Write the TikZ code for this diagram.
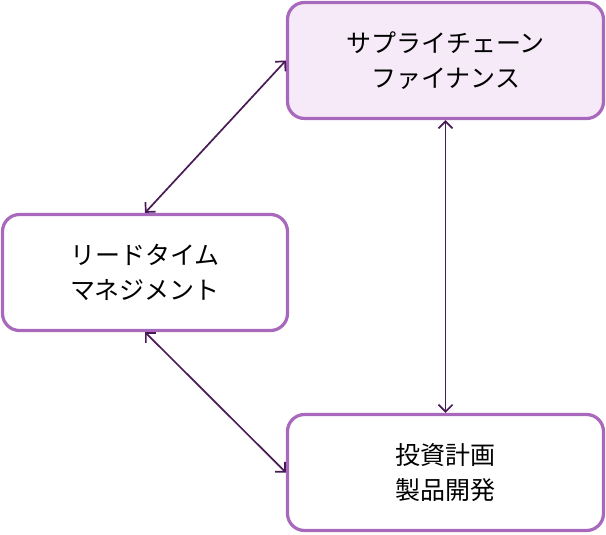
\documentclass[tikz,border=0pt]{standalone}
\usepackage{fontspec}
\setmainfont{Noto Sans CJK JP}
\usetikzlibrary{arrows.meta}
\definecolor{boxborder}{HTML}{A868BC}
\definecolor{boxfill}{HTML}{F6EAF8}
\definecolor{arrowcol}{HTML}{4A1A57}
\tikzset{
  box/.style={draw=boxborder, line width=3.2pt, rounded corners=17pt, minimum width=316pt, minimum height=116pt, align=center, font=\fontsize{25}{35}\selectfont, inner sep=0pt},
  conn/.style={draw=arrowcol, line width=1.7pt, {Straight Barb[length=7pt,width=14pt,line width=1.7pt]}-{Straight Barb[length=7pt,width=14pt,line width=1.7pt]}}
}
\begin{document}
\begin{tikzpicture}[x=1pt,y=-1pt]
\useasboundingbox (0,0) rectangle (606,535);
\node[box, fill=boxfill] (scf) at (445.5,60.5) {サプライチェーン\\ファイナンス};
\node[box, fill=white, minimum width=285pt] (ltm) at (145,272.5) {リードタイム\\マネジメント};
\node[box, fill=white] (inv) at (445.5,472.5) {投資計画\\製品開発};
\draw[conn] (ltm.north) -- (scf.west);
\draw[conn] (scf.south) -- (inv.north);
\draw[conn] (ltm.south) -- (inv.west);
\end{tikzpicture}
\end{document}
